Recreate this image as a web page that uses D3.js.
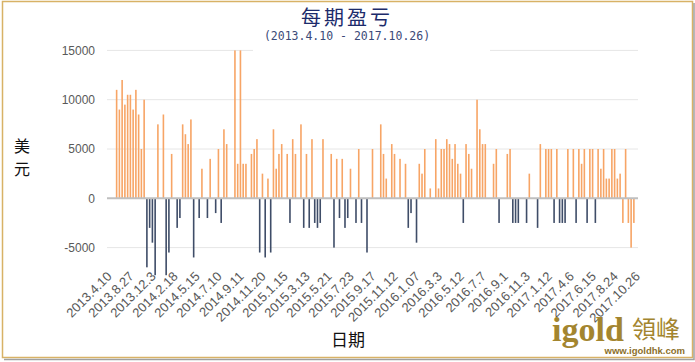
<!DOCTYPE html>
<html>
<head>
  <meta charset="UTF-8">
  <title>每期盈亏</title>
  <style>
    body { margin: 0; background: #fff; }
    svg { display: block; }
  </style>
</head>
<body>
<svg></svg>
<script src="https://d3js.org/d3.v7.min.js"></script>
<script>

let width = 695, height = 362;

// x tick labels (one every 8 periods)
let tickLabels = ["2013.4.10", "2013.8.27", "2013.12.3", "2014.2.18", "2014.5.15", "2014.7.10",
  "2014.9.11", "2014.11.20", "2015.1.15", "2015.3.13", "2015.5.21", "2015.7.23", "2015.9.17",
  "2015.11.12", "2016.1.07", "2016.3.3", "2016.5.12", "2016.7.7", "2016.9.1", "2016.11.3",
  "2017.1.12", "2017.4.6", "2017.6.15", "2017.8.24", "2017.10.26"];
let labelEvery = 8;

// profit / loss per period (USD), 0 = no trade
let pnl = [
  0, 0, 0, 11000, 9000, 12000, 9500, 10500, 10500, 9000,
  11000, 8500, 5000, 10000, -7000, -3000, -4500, -7800, 7500, 0,
  8500, -7800, -5500, 4500, 0, -3000, -2000, 7500, 6500, 5500,
  8000, -6000, 0, -2000, 3000, 0, -2000, 4000, 0, -1500,
  5000, -2500, 7000, 5500, 0, 0, 15000, 3500, 15000, 3500,
  3500, 0, 4500, 5000, 6000, -5500, 2500, -6000, 2000, -5500,
  7000, 3000, 4500, 5500, 0, 4500, -2500, 6000, 4500, 0,
  7500, -3000, 4500, -3000, 6000, -2500, -3000, -2500, 6000, 0,
  0, 4500, -5000, 4000, -2000, 4000, -3000, -2000, 3000, 0,
  -2500, 5000, -2500, 0, -5500, 0, 5000, 0, 0, 7500,
  4500, 2000, 0, 5500, 4500, 0, 4000, 0, 3500, -3000,
  -1500, 0, -4500, 3500, 2500, 5000, 0, 1000, 0, 6000,
  1000, 5000, 5000, 6000, 5500, 4000, 5500, 3500, 2500, -2500,
  5500, 4500, 3000, 0, 10000, 7000, 5500, 5500, 0, 0,
  3500, 5000, -2500, 0, 0, 4500, 5000, -2500, -2500, -2500,
  0, 0, -2500, 2500, 0, 0, -3000, 5500, 0, 5000,
  5000, 5000, -2500, 5000, -2500, -2500, -2500, 5000, 0, 5000,
  -2500, 5000, 3500, 5000, -2500, 5000, 5000, -2500, 5000, 3000,
  5000, 2000, 2000, 5000, 5000, 2000, 2500, -2500, 5000, -2500,
  -5000, -2500, 0
];
// periods whose loss is still drawn in the profit colour
let orangeLoss = [187, 189, 190, 191];

let yTicks = [-5000, 0, 5000, 10000, 15000];

let svg = d3.select("svg")
    .attr("width", width)
    .attr("height", height)
    .style("font-family", "'Liberation Sans', Arial, sans-serif");

let x = d3.scaleBand()
    .domain(d3.range(pnl.length))
    .range([107, 638]);

let y = d3.scaleLinear()
    .domain([-5000, 15000])
    .range([247.6, 50.4]);

// gridlines
svg.append("g")
  .selectAll("line")
  .data(yTicks.filter(d => d != 0))
  .enter().append("line")
    .attr("x1", 107).attr("x2", 638)
    .attr("y1", d => y(d)).attr("y2", d => y(d))
    .attr("stroke", "#e6e6e6")
    .attr("stroke-width", 1);

// white box behind the title hides part of the top gridline
svg.append("rect")
    .attr("x", 253).attr("y", 0)
    .attr("width", 237).attr("height", 52)
    .attr("fill", "#fff");

// y tick labels
svg.append("g")
  .selectAll("text")
  .data(yTicks)
  .enter().append("text")
    .attr("x", 95)
    .attr("y", d => y(d))
    .attr("dy", "0.35em")
    .attr("text-anchor", "end")
    .style("font-size", "12px")
    .style("fill", "#595959")
    .text(d => d);

// bars
svg.append("g")
  .selectAll("rect")
  .data(pnl.map((v, i) => ({i: i, v: v})).filter(d => d.v != 0))
  .enter().append("rect")
    .attr("x", d => x(d.i) + x.bandwidth() / 2 - 0.8)
    .attr("width", 1.6)
    .attr("y", d => Math.min(y(d.v), y(0)))
    .attr("height", d => Math.abs(y(d.v) - y(0)))
    .attr("fill", d => (d.v > 0 || orangeLoss.includes(d.i)) ? "#f7a566" : "#3f4d68");

// zero line
svg.append("line")
    .attr("x1", 107).attr("x2", 638)
    .attr("y1", y(0)).attr("y2", y(0))
    .attr("stroke", "#bfbfbf")
    .attr("stroke-width", 2);

// x tick labels
svg.append("g")
  .selectAll("text")
  .data(tickLabels)
  .enter().append("text")
    .attr("transform", (d, k) => "translate(" + (x(k * labelEvery) + x.bandwidth() / 2 + 1) + "," + 274 + ") rotate(-45)")
    .attr("text-anchor", "end")
    .attr("dy", "0.35em")
    .style("font-size", "13px")
    .style("fill", "#595959")
    .text(d => d);

// titles
svg.append("text")
    .attr("x", 347).attr("y", 25)
    .attr("text-anchor", "middle")
    .style("font-family", "'Noto Sans CJK SC', sans-serif")
    .style("font-size", "20px")
    .style("letter-spacing", "3px")
    .style("fill", "#1c2b6b")
    .text("每期盈亏");

svg.append("text")
    .attr("x", 347).attr("y", 40)
    .attr("text-anchor", "middle")
    .style("font-family", "'DejaVu Sans Mono', monospace")
    .style("font-size", "11.5px")
    .style("fill", "#3b4a78")
    .text("(2013.4.10 - 2017.10.26)");

svg.append("text")
    .attr("x", 22).attr("y", 152)
    .attr("text-anchor", "middle")
    .style("font-family", "'Noto Sans CJK SC', sans-serif")
    .style("font-size", "16px")
    .style("fill", "#111")
    .text("美");
svg.append("text")
    .attr("x", 22).attr("y", 175)
    .attr("text-anchor", "middle")
    .style("font-family", "'Noto Sans CJK SC', sans-serif")
    .style("font-size", "16px")
    .style("fill", "#111")
    .text("元");

svg.append("text")
    .attr("x", 348).attr("y", 346)
    .attr("text-anchor", "middle")
    .style("font-family", "'Noto Sans CJK SC', sans-serif")
    .style("font-size", "17px")
    .style("fill", "#111")
    .text("日期");

// logo
svg.append("text")
    .attr("x", 552).attr("y", 341)
    .style("font-family", "'Liberation Serif', serif")
    .style("font-weight", "bold")
    .style("font-size", "34px")
    .style("fill", "#a3852f")
    .text("igold");
svg.append("text")
    .attr("x", 632).attr("y", 338)
    .style("font-family", "'Noto Sans CJK TC', sans-serif")
    .style("font-size", "24px")
    .style("fill", "#a3852f")
    .text("領峰");
svg.append("text")
    .attr("x", 685).attr("y", 354)
    .attr("text-anchor", "end")
    .style("font-family", "'Liberation Sans', sans-serif")
    .style("font-weight", "bold")
    .style("font-size", "9.5px")
    .style("fill", "#8c6f2a")
    .text("www.igoldhk.com");

// frame
svg.append("rect")
    .attr("x", 2.5).attr("y", 1.5)
    .attr("width", 690).attr("height", 356)
    .attr("fill", "none")
    .attr("stroke", "#d8b266")
    .attr("stroke-width", 1.5);
svg.append("path")
    .attr("d", "M694,3V359.5H4")
    .attr("fill", "none")
    .attr("stroke", "#a0a0a0")
    .attr("stroke-width", 1.5);

</script>
</body>
</html>
